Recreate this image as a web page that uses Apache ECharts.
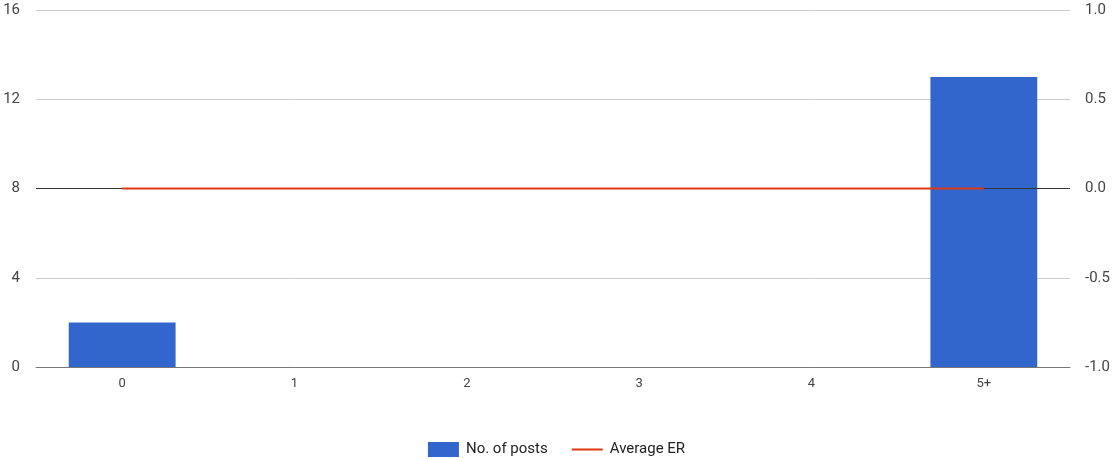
<!DOCTYPE html>
<html>
<head>
<meta charset="utf-8">
<script src="https://cdn.jsdelivr.net/npm/echarts@6/dist/echarts.min.js"></script>
<style>
  html, body { margin: 0; padding: 0; background: #fff; }
  #chart { width: 1113px; height: 459px; }
</style>
</head>
<body>
<div id="chart"></div>
<script>
// Post counts and average engagement rate by bucket
const categories = ['0', '1', '2', '3', '4', '5+'];
const postCounts = [2, 0, 0, 0, 0, 13];
const averageER = [0, 0, 0, 0, 0, 0];

const chart = echarts.init(document.getElementById('chart'));
const textStyle = { fontFamily: 'Roboto', color: '#444' };

chart.setOption({
  animation: false,
  textStyle: { fontFamily: 'Roboto' },
  grid: { left: 36, right: 43, top: 10, bottom: 92, containLabel: false },
  legend: {
    top: 437,
    left: 'center',
    itemWidth: 31,
    itemHeight: 15,
    itemGap: 24,
    textStyle: { fontFamily: 'Roboto', fontSize: 15, color: '#222', padding: [0, 0, 0, 2] },
    data: [
      { name: 'No. of posts', icon: 'rect' },
      // thin horizontal stroke for the line series
      { name: 'Average ER', icon: 'path://M0,0 L31,0 L31,2 L0,2 Z', itemStyle: { color: '#dc3912' } }
    ]
  },
  xAxis: {
    type: 'category',
    data: categories,
    axisTick: { show: false },
    axisLine: { lineStyle: { color: '#777', width: 1 } },
    axisLabel: Object.assign({ margin: 10, fontSize: 13 }, textStyle)
  },
  yAxis: [
    {
      type: 'value',
      min: 0, max: 16, interval: 4,
      axisLine: { show: false },
      axisTick: { show: false },
      splitLine: { lineStyle: { color: '#ccc' } },
      axisLabel: Object.assign({ margin: 16, fontSize: 15 }, textStyle)
    },
    {
      type: 'value',
      min: -1, max: 1, interval: 0.5,
      axisLine: { show: false },
      axisTick: { show: false },
      splitLine: { show: false },
      axisLabel: Object.assign({ margin: 15, fontSize: 15, formatter: v => v.toFixed(1) }, textStyle)
    }
  ],
  series: [
    {
      name: 'No. of posts',
      type: 'bar',
      data: postCounts,
      barWidth: '62%',
      itemStyle: { color: '#3366cc' },
      markLine: {
        silent: true,
        symbol: 'none',
        label: { show: false },
        lineStyle: { color: '#333', width: 1, type: 'solid' },
        data: [{ yAxis: 8 }]
      }
    },
    {
      name: 'Average ER',
      type: 'line',
      yAxisIndex: 1,
      z: 10,
      data: averageER,
      symbol: 'none',
      lineStyle: { color: '#dc3912', width: 2 },
      itemStyle: { color: '#dc3912' }
    }
  ]
});
</script>
</body>
</html>
